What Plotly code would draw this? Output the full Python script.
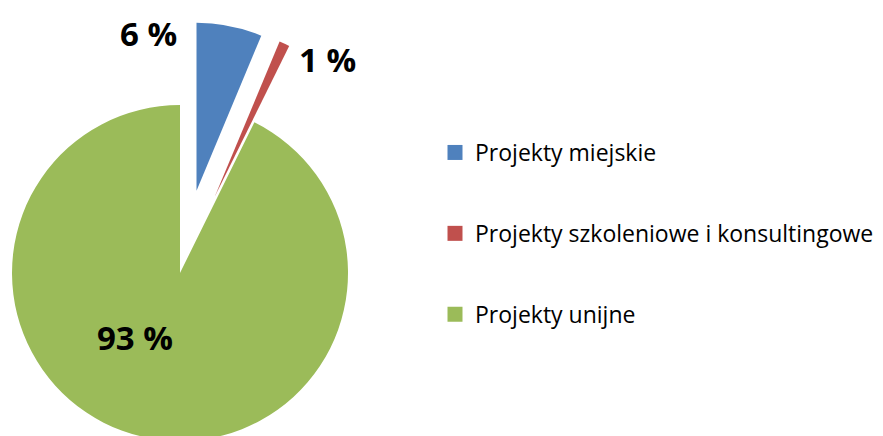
import math
import plotly.graph_objects as go

categories = ["Projekty miejskie", "Projekty szkoleniowe i konsultingowe", "Projekty unijne"]
values = [6.3, 1.0, 92.7]
value_labels = ["6 %", "1 %", "93 %"]
colors = ["#4F81BD", "#C0504D", "#9BBB59"]
pulls = [0.5, 0.5, 0.0]

W, H = 883, 436
cx, cy, r = 172.0, 265.0, 168.0  # pixel centre / radius of the unpulled pie (figure coords)

total = sum(values)
fig = go.Figure()

start = 0.0
for i, v in enumerate(values):
    frac = v / total
    mid = (start + frac / 2) * 2 * math.pi
    start += frac
    d = pulls[i] * r
    pcx = cx + d * math.sin(mid)
    pcy = cy - d * math.cos(mid)
    dom_x = [(pcx - r) / W, (pcx + r) / W]
    dom_y = [1 - (pcy + r) / H, 1 - (pcy - r) / H]
    dom_x = [max(0.0, dom_x[0]), min(1.0, dom_x[1])]
    dom_y = [max(0.0, dom_y[0]), min(1.0, dom_y[1])]
    slice_colors = [colors[j] if j == i else "rgba(0,0,0,0)" for j in range(len(values))]
    fig.add_trace(go.Pie(
        labels=categories, values=values, sort=False, direction="clockwise",
        rotation=0, marker=dict(colors=slice_colors, line=dict(width=0)),
        textinfo="none", hoverinfo="label+percent", showlegend=False,
        domain=dict(x=dom_x, y=dom_y),
    ))

# legend entries
for i, c in enumerate(categories):
    fig.add_trace(go.Scatter(
        x=[None], y=[None], mode="markers", name=c, legendgroup=c,
        marker=dict(symbol="square", size=15, color=colors[i]),
    ))

label_pos = [(140, 25), (319, 52), (127, 329)]
for (lx, ly), t in zip(label_pos, value_labels):
    fig.add_annotation(x=lx / W, y=1 - ly / H, xref="paper", yref="paper",
                       xanchor="center", yanchor="middle",
                       text=f"<b>{t}</b>", showarrow=False,
                       font=dict(family="Open Sans", size=33, color="#000000"))

fig.update_layout(
    width=W, height=H, margin=dict(l=0, r=0, t=0, b=0),
    paper_bgcolor="white", plot_bgcolor="white",
    xaxis=dict(visible=False), yaxis=dict(visible=False),
    legend=dict(x=427 / W, y=1 - 123 / H, xanchor="left", yanchor="top",
                font=dict(family="Open Sans", size=23, color="#000000"),
                tracegroupgap=48, bgcolor="rgba(0,0,0,0)"),
    font=dict(family="Open Sans"),
)

fig.write_html("out.html")
